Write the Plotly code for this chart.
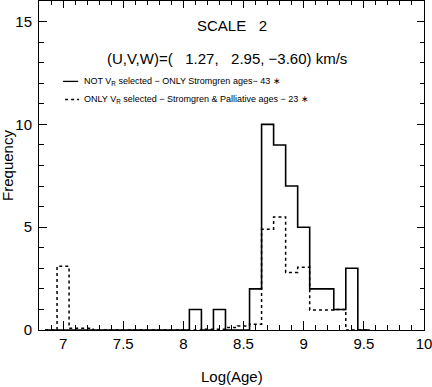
import plotly.graph_objects as go

# Bin centres of the Log(Age) histogram (bin width 0.1)
bin_centers = [6.9, 7.0, 7.1, 7.2, 7.3, 7.4, 7.5, 7.6, 7.7, 7.8, 7.9, 8.0, 8.1, 8.2,
               8.3, 8.4, 8.5, 8.6, 8.7, 8.8, 8.9, 9.0, 9.1, 9.2, 9.3, 9.4, 9.5]
# NOT V_R selected - ONLY Stromgren ages (43 stars)
solid_counts = [0, 0, 0, 0, 0, 0, 0, 0, 0, 0, 0, 0, 1, 0,
                1, 0, 0, 2, 10, 9, 7, 5, 2, 2, 1, 3, 0]
# ONLY V_R selected - Stromgren & Palliative ages (23 stars)
dotted_counts = [0, 3.1, 0.08, 0.08, 0, 0, 0, 0, 0, 0, 0, 0, 0, 0.04,
                 0.04, 0.12, 0.2, 0.28, 4.9, 5.5, 2.8, 3.05, 0.97, 0.97, 1.0, 0, 0]

title_line1 = "SCALE\u00a0\u00a0 2"
title_line2 = "(U,V,W)=(\u00a0\u00a0 1.27,\u00a0\u00a0 2.95, \u22123.60) km/s"
legend_solid = "NOT V<sub>R</sub> selected \u2212 ONLY Stromgren ages\u2212 43 \u2217"
legend_dotted = "ONLY V<sub>R</sub> selected \u2212 Stromgren & Palliative ages \u2212 23 \u2217"


def step_outline(centers, values):
    width = centers[1] - centers[0]
    xs = [centers[0] - width / 2] + [c - width / 2 for c in centers] + [centers[-1] + width / 2]
    ys = [0] + list(values) + [0]
    return xs, ys


FONT = "Liberation Sans"
fig = go.Figure()

xs, ys = step_outline(bin_centers, solid_counts)
fig.add_trace(go.Scatter(x=xs, y=ys, mode="lines", line_shape="hv",
                         line=dict(color="black", width=1.6),
                         name="NOT V_R selected", showlegend=False))
xs, ys = step_outline(bin_centers, dotted_counts)
fig.add_trace(go.Scatter(x=xs, y=ys, mode="lines", line_shape="hv",
                         line=dict(color="black", width=1.5, dash="dot"),
                         name="ONLY V_R selected", showlegend=False))
# empty trace so the top/right tick axes are drawn
fig.add_trace(go.Scatter(x=[None], y=[None], xaxis="x2", yaxis="y2", mode="lines",
                         showlegend=False, hoverinfo="skip"))

XR = [6.8, 10]
YR = [0, 16]
tick_common = dict(ticks="inside", tickwidth=1, tickcolor="black",
                   showgrid=False, zeroline=False, automargin=False)

fig.update_layout(
    width=432, height=387,
    margin=dict(l=39, r=8, t=1, b=57),
    paper_bgcolor="white", plot_bgcolor="white",
    font=dict(family=FONT, color="black", size=15),
    xaxis=dict(range=XR, tickvals=[7, 7.5, 8, 8.5, 9, 9.5, 10],
               ticktext=["7", "7.5", "8", "8.5", "9", "9.5", "10"], ticklen=9,
               minor=dict(dtick=0.1, tick0=0, ticks="inside", ticklen=5, tickcolor="black"),
               showline=True, linecolor="black", linewidth=1, mirror=True,
               tickfont=dict(size=15), ticklabeloverflow="allow", **tick_common),
    yaxis=dict(range=YR, tickvals=[0, 5, 10, 15], ticklen=8,
               minor=dict(dtick=1, tick0=0, ticks="inside", ticklen=5, tickcolor="black"),
               showline=True, linecolor="black", linewidth=1, mirror=True,
               tickfont=dict(size=15), ticklabelstandoff=3,
               ticklabeloverflow="allow", **tick_common),
    xaxis2=dict(range=XR, overlaying="x", side="top", anchor="y2",
                tickvals=[7, 7.5, 8, 8.5, 9, 9.5, 10], showticklabels=False, ticklen=7,
                minor=dict(dtick=0.1, tick0=0, ticks="inside", ticklen=4, tickcolor="black"),
                showline=False, **tick_common),
    yaxis2=dict(range=YR, overlaying="y", side="right", anchor="x2",
                tickvals=[0, 5, 10, 15], showticklabels=False, ticklen=7,
                minor=dict(dtick=1, tick0=0, ticks="inside", ticklen=4, tickcolor="black"),
                showline=False, **tick_common),
)

annotations = [
    dict(text=title_line1, x=8.405, y=14.8, xref="x", yref="y", showarrow=False,
         font=dict(size=15), xanchor="center", yanchor="middle"),
    dict(text=title_line2, x=8.363, y=13.2, xref="x", yref="y", showarrow=False,
         font=dict(size=15), xanchor="center", yanchor="middle"),
    dict(text=legend_solid, x=7.155, y=12.09, xref="x", yref="y", showarrow=False,
         font=dict(size=9), xanchor="left", yanchor="middle"),
    dict(text=legend_dotted, x=7.155, y=11.21, xref="x", yref="y", showarrow=False,
         font=dict(size=9), xanchor="left", yanchor="middle"),
    dict(text="Log(Age)", x=0.5, y=-0.14, xref="paper", yref="paper", showarrow=False,
         font=dict(size=15), xanchor="center", yanchor="middle"),
    dict(text="Frequency", x=-0.082, y=0.5, xref="paper", yref="paper", showarrow=False,
         font=dict(size=15), xanchor="center", yanchor="middle", textangle=-90),
]
fig.update_layout(annotations=annotations)

fig.add_shape(type="line", x0=7.0, x1=7.125, y0=12.09, y1=12.09, xref="x", yref="y",
              line=dict(color="black", width=1.3))
fig.add_shape(type="line", x0=7.017, x1=7.133, y0=11.21, y1=11.21, xref="x", yref="y",
              line=dict(color="black", width=1.3, dash="dot"))

fig.write_html("out.html", config={"displayModeBar": False},
               post_script="document.body.style.margin='0px';document.body.style.overflow='hidden';")
